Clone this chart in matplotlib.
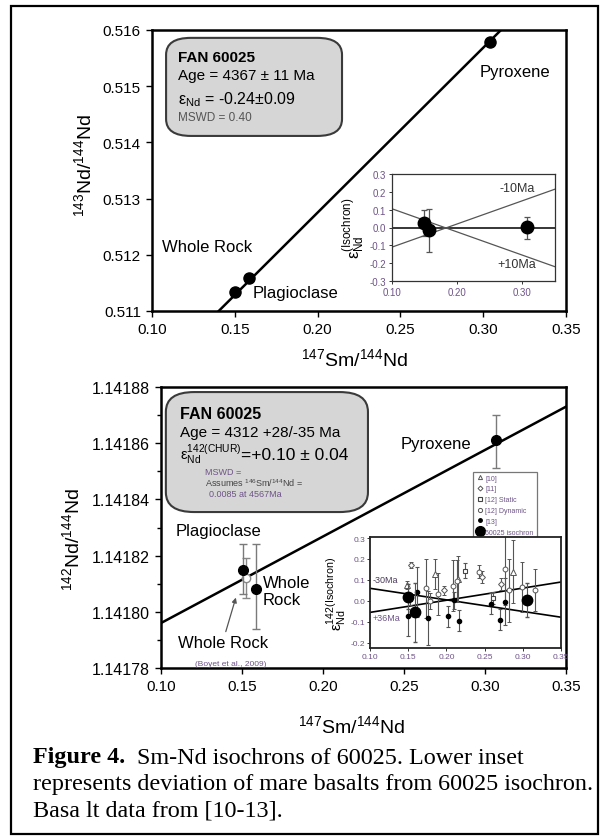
import matplotlib
matplotlib.use("Agg")
import matplotlib.pyplot as plt
from matplotlib.patches import FancyBboxPatch, Rectangle
from matplotlib.lines import Line2D
import matplotlib.font_manager as fm
import numpy as np

names = {f.name for f in fm.fontManager.ttflist}
SANS = "Liberation Sans"
NARROW = "Liberation Sans Narrow" if "Liberation Sans Narrow" in names else SANS
plt.rcParams['font.family'] = [SANS, 'DejaVu Sans']
plt.rcParams['mathtext.fontset'] = 'custom'
plt.rcParams['mathtext.rm'] = SANS
plt.rcParams['mathtext.it'] = SANS

# ---------------- data: upper (143Nd) isochron ----------------
top_labels = ["Whole Rock", "Plagioclase", "Pyroxene"]
top_x = [0.150, 0.1585, 0.3044]
top_y = [0.51134, 0.51158, 0.51578]
iso1_x = [0.10, 0.35]
iso1_y = [0.509818, 0.517151]

# upper inset: deviation from isochron
in1_x = [0.149, 0.157, 0.307]
in1_y = [0.025, -0.012, 0.003]
in1_lo = [0.070, 0.125, 0.065]
in1_hi = [0.075, 0.115, 0.055]
in1_line_x = [0.10, 0.35]
minus10_y = [-0.11, 0.215]
plus10_y = [0.105, -0.22]

# ---------------- data: lower (142Nd) isochron ----------------
low_labels = ["Plagioclase", "Whole Rock", "Pyroxene"]
low_x = [0.1504, 0.1586, 0.307]
low_y = [1.141815, 1.141808, 1.141861]
low_lo = [0.0000085, 0.000014, 0.000010]
low_hi = [0.0000090, 0.000016, 0.000009]
boyet_x = [0.1525]
boyet_y = [1.141812]
boyet_err = [0.000007]
iso2_x = [0.10, 0.35]
iso2_y = [1.141796, 1.141873]

# lower inset: basalt data [10-13]
b10_x = [0.149, 0.185, 0.2156, 0.2867]
b10_y = [0.075, 0.128, 0.105, 0.140]
b10_e = [0.02, 0.07, 0.11, 0.15]
b11_x = [0.154, 0.197, 0.246, 0.272]
b11_y = [0.171, 0.050, 0.113, 0.081]
b11_e = [0.015, 0.02, 0.03, 0.03]
b12s_x = [0.225, 0.2606, 0.152]
b12s_y = [0.144, 0.013, 0.010]
b12s_e = [0.035, 0.03, 0.03]
b12d_x = [0.173, 0.178, 0.189, 0.208, 0.2134, 0.243, 0.2767, 0.282, 0.2985, 0.316]
b12d_y = [0.060, 0.000, 0.033, 0.073, 0.097, 0.140, 0.152, 0.050, 0.065, 0.050]
b12d_e = [0.14, 0.04, 0.10, 0.12, 0.10, 0.03, 0.17, 0.15, 0.12, 0.10]
b13_x = [0.150, 0.161, 0.176, 0.2017, 0.210, 0.217, 0.259, 0.270, 0.2767]
b13_y = [-0.070, 0.044, -0.083, -0.073, 0.002, -0.094, -0.014, -0.090, -0.003]
b13_e = [0.10, 0.12, 0.13, 0.05, 0.04, 0.05, 0.05, 0.05, 0.11]
iso_in_x = [0.150, 0.159, 0.306]
iso_in_y = [0.020, -0.055, 0.005]
iso_in_e = [0.06, 0.14, 0.08]
in2_line_x = [0.10, 0.35]
minus30_y = [-0.055, 0.09]
plus36_y = [0.06, -0.078]

legend_labels = ["[10]", "[11]", "[12] Static", "[12] Dynamic", "[13]", "60025 isochron"]

PURPLE = "#6e5488"

fig = plt.figure(figsize=(6.08, 8.37), dpi=100)

# outer frame
fig.patches.append(Rectangle((11 / 608, 1 - 835 / 837), (598 - 11) / 608, (835 - 7) / 837,
                             transform=fig.transFigure, fill=False, lw=1.6, ec="black"))

def style_main(ax):
    for s in ax.spines.values():
        s.set_linewidth(1.8)
    ax.tick_params(direction='out', length=4, width=1, labelsize=11, pad=4)
    ax.set_xlim(0.10, 0.35)
    ax.set_xticks(np.arange(0.10, 0.351, 0.05))
    ax.xaxis.set_major_formatter(matplotlib.ticker.FormatStrFormatter('%.2f'))

# ---------------- upper main ----------------
ax1 = fig.add_axes([152 / 608, 1 - 312 / 837, 414 / 608, 281 / 837])
style_main(ax1)
ax1.set_ylim(0.511, 0.516)
ax1.set_yticks(np.arange(0.511, 0.51601, 0.001))
ax1.yaxis.set_major_formatter(matplotlib.ticker.FormatStrFormatter('%.3f'))
ax1.plot(iso1_x, iso1_y, color='black', lw=1.8)
ax1.plot(top_x, top_y, 'o', color='black', ms=8)
ax1.set_xlabel(r'$\mathregular{^{147}Sm/^{144}Nd}$', fontsize=14)
ax1.xaxis.set_label_coords(0.49, -0.13)
ax1.set_ylabel(r'$\mathregular{^{143}Nd/^{144}Nd}$', fontsize=14)
ax1.yaxis.set_label_coords(-0.138, 0.52)
ax1.text(0.1332, 0.512139, top_labels[0], fontsize=12, ha='center', va='center')
ax1.text(0.1864, 0.511338, top_labels[1], fontsize=12, ha='center', va='center')
ax1.text(0.319, 0.515253, top_labels[2], fontsize=12, ha='center', va='center')

box1 = FancyBboxPatch((0.034, 0.623), 0.425, 0.349, boxstyle="round,pad=0,rounding_size=0.06",
                      transform=ax1.transAxes, fc="#d6d6d6", ec="#3a3a3a", lw=1.5, zorder=3)
ax1.add_patch(box1)
ax1.text(0.063, 0.905, "FAN 60025", transform=ax1.transAxes, fontsize=11, weight='bold', va='center', zorder=4)
ax1.text(0.063, 0.84, "Age = 4367 ± 11 Ma", transform=ax1.transAxes, fontsize=11, va='center', zorder=4)
ax1.text(0.063, 0.755, r'$\mathregular{ε_{Nd}}$ = -0.24±0.09', transform=ax1.transAxes, fontsize=11.5, va='center', zorder=4)
ax1.text(0.063, 0.69, "MSWD = 0.40", transform=ax1.transAxes, fontsize=8.5, color="#555555", va='center', zorder=4)

# ---------------- upper inset ----------------
ai1 = fig.add_axes([392 / 608, 1 - 282 / 837, 163 / 608, 107 / 837])
ai1.set_xlim(0.10, 0.35)
ai1.set_ylim(-0.3, 0.3)
ai1.set_xticks([0.10, 0.20, 0.30])
ai1.set_yticks(np.round(np.arange(-0.3, 0.31, 0.1), 1))
ai1.xaxis.set_major_formatter(matplotlib.ticker.FormatStrFormatter('%.2f'))
ai1.yaxis.set_major_formatter(matplotlib.ticker.FormatStrFormatter('%.1f'))
for s in ai1.spines.values():
    s.set_linewidth(0.9)
    s.set_color("#333333")
ai1.tick_params(direction='out', length=2, width=0.7, labelsize=7, colors="#333333", labelcolor=PURPLE, pad=2)
for lab in ai1.get_xticklabels() + ai1.get_yticklabels():
    lab.set_family(NARROW)
ai1.axhline(0, color='black', lw=1.1)
ai1.plot(in1_line_x, minus10_y, color='#555555', lw=0.9)
ai1.plot(in1_line_x, plus10_y, color='#555555', lw=0.9)
ai1.errorbar(in1_x, in1_y, yerr=[in1_lo, in1_hi], fmt='o', color='black', ecolor='#555555',
             ms=9, elinewidth=0.9, capsize=2.5, capthick=0.9)
ai1.text(0.292, 0.22, "-10Ma", fontsize=9, family=NARROW, ha='center', va='center', color='#333333')
ai1.text(0.292, -0.205, "+10Ma", fontsize=9, family=NARROW, ha='center', va='center', color='#333333')
ai1.set_ylabel(r'$\mathregular{ε_{Nd}^{(Isochron)}}$', fontsize=12, labelpad=2)

# ---------------- lower main ----------------
ax2 = fig.add_axes([161 / 608, 1 - 669 / 837, 405 / 608, 281 / 837])
style_main(ax2)
ax2.set_ylim(1.14178, 1.14188)
ax2.set_yticks(np.arange(1.14178, 1.141881, 0.00002))
ax2.set_yticks(np.arange(1.14179, 1.14188, 0.00002), minor=True)
ax2.yaxis.set_major_formatter(matplotlib.ticker.FormatStrFormatter('%.5f'))
ax2.tick_params(axis='y', labelsize=11.5)
ax2.tick_params(axis='y', which='minor', direction='out', length=3, width=1)
ax2.plot(iso2_x, iso2_y, color='black', lw=1.8)
ax2.errorbar(boyet_x, boyet_y, yerr=boyet_err, fmt='o', mfc='white', mec='#888888', ecolor='#888888',
             ms=6, elinewidth=1, capsize=3, zorder=4)
ax2.errorbar(low_x, low_y, yerr=[low_lo, low_hi], fmt='o', color='black', ecolor='#7a7a7a',
             ms=7, elinewidth=1, capsize=3, zorder=5)
ax2.set_xlabel(r'$\mathregular{^{147}Sm/^{144}Nd}$', fontsize=14)
ax2.xaxis.set_label_coords(0.47, -0.165)
ax2.set_ylabel(r'$\mathregular{^{142}Nd/^{144}Nd}$', fontsize=14)
ax2.yaxis.set_label_coords(-0.193, 0.46)
ax2.text(0.1352, 1.141829, low_labels[0], fontsize=12, ha='center', va='center')
ax2.text(0.163, 1.1418075, "Whole\nRock", fontsize=12, ha='left', va='center', linespacing=1.15)
ax2.text(0.2698, 1.141860, low_labels[2], fontsize=12, ha='center', va='center')
ax2.text(0.1383, 1.141789, "Whole Rock", fontsize=12, ha='center', va='center')
ax2.text(0.1433, 1.1417815, "(Boyet et al., 2009)", fontsize=6, family=NARROW, color=PURPLE, ha='center', va='center')
ax2.annotate("", xy=(0.1467, 1.141806), xytext=(0.1395, 1.141792),
             arrowprops=dict(arrowstyle='-|>', color='#555555', lw=0.9, mutation_scale=7))

box2 = FancyBboxPatch((0.012, 0.555), 0.499, 0.427, boxstyle="round,pad=0,rounding_size=0.07",
                      transform=ax2.transAxes, fc="#d6d6d6", ec="#3a3a3a", lw=1.5, zorder=3)
ax2.add_patch(box2)
ax2.text(0.047, 0.905, "FAN 60025", transform=ax2.transAxes, fontsize=11.5, weight='bold', va='center', zorder=6)
ax2.text(0.047, 0.84, "Age = 4312 +28/-35 Ma", transform=ax2.transAxes, fontsize=11, va='center', zorder=6)
ax2.text(0.047, 0.765, r'$\mathregular{ε_{Nd}^{142(CHUR)}}$', transform=ax2.transAxes, fontsize=10.5, va='center', zorder=6)
ax2.text(0.198, 0.76, "=+0.10 ± 0.04", transform=ax2.transAxes, fontsize=12.5, va='center', zorder=6)
ax2.text(0.108, 0.70, "MSWD =", transform=ax2.transAxes, fontsize=6.5, family=NARROW, color=PURPLE, va='center', zorder=6)
ax2.text(0.108, 0.66, r'Assumes $\mathregular{^{146}Sm/^{144}Nd}$ =', transform=ax2.transAxes, fontsize=6.5,
         family=NARROW, color="#444444", va='center', zorder=6)
ax2.text(0.118, 0.62, "0.0085 at 4567Ma", transform=ax2.transAxes, fontsize=6.5, family=NARROW, color=PURPLE,
         va='center', zorder=6)

# ---------------- lower inset ----------------
ai2 = fig.add_axes([370 / 608, 1 - 649 / 837, 191 / 608, 111 / 837])
ai2.set_xlim(0.10, 0.35)
ai2.set_ylim(-0.225, 0.305)
ai2.set_xticks(np.arange(0.10, 0.351, 0.05))
ai2.set_yticks(np.round(np.arange(-0.2, 0.31, 0.1), 1))
ai2.xaxis.set_major_formatter(matplotlib.ticker.FormatStrFormatter('%.2f'))
ai2.yaxis.set_major_formatter(matplotlib.ticker.FormatStrFormatter('%.1f'))
for s in ai2.spines.values():
    s.set_linewidth(1.3)
    s.set_color("#222222")
ai2.tick_params(direction='out', length=2, width=0.7, labelsize=6, colors="#333333", labelcolor=PURPLE, pad=1.5)
for lab in ai2.get_xticklabels() + ai2.get_yticklabels():
    lab.set_family(NARROW)
ai2.plot(in2_line_x, minus30_y, color='black', lw=1.2)
ai2.plot(in2_line_x, plus36_y, color='black', lw=1.2)
ekw = dict(ecolor='#555555', elinewidth=0.8, capsize=1.5, capthick=0.8, ls='none')
h10 = ai2.errorbar(b10_x, b10_y, yerr=b10_e, marker='^', ms=4, mfc='white', mec='#555555', mew=0.7, **ekw)
h11 = ai2.errorbar(b11_x, b11_y, yerr=b11_e, marker='D', ms=3, mfc='white', mec='#555555', mew=0.7, **ekw)
h12s = ai2.errorbar(b12s_x, b12s_y, yerr=b12s_e, marker='s', ms=3.5, mfc='white', mec='#444444', mew=0.8, **ekw)
h12d = ai2.errorbar(b12d_x, b12d_y, yerr=b12d_e, marker='o', ms=3.5, mfc='white', mec='#555555', mew=0.7, **ekw)
h13 = ai2.errorbar(b13_x, b13_y, yerr=b13_e, marker='o', ms=3, mfc='black', mec='black', **ekw)
hiso = ai2.errorbar(iso_in_x, iso_in_y, yerr=iso_in_e, marker='o', ms=7.5, mfc='black', mec='black',
                    ecolor='#555555', elinewidth=0.8, capsize=1.5, ls='none', zorder=5)
ai2.text(0.103, 0.10, "-30Ma", fontsize=6.5, family=NARROW, color="#4a3a5a", ha='left', va='center')
ai2.text(0.103, -0.08, "+36Ma", fontsize=6.5, family=NARROW, color=PURPLE, ha='left', va='center')
ai2.set_ylabel(r'$\mathregular{ε_{Nd}^{142(Isochron)}}$', fontsize=11, labelpad=1)

# legend (in lower main axes)
leg_handles = [
    Line2D([], [], marker='^', ls='none', ms=3, mfc='white', mec='#555555', mew=0.7),
    Line2D([], [], marker='D', ls='none', ms=2.5, mfc='white', mec='#555555', mew=0.7),
    Line2D([], [], marker='s', ls='none', ms=3, mfc='white', mec='#444444', mew=0.8),
    Line2D([], [], marker='o', ls='none', ms=3, mfc='white', mec='#555555', mew=0.7),
    Line2D([], [], marker='o', ls='none', ms=2.5, mfc='black', mec='black'),
    Line2D([], [], marker='o', ls='none', ms=7, mfc='black', mec='black'),
]
leg = ax2.legend(leg_handles, legend_labels, loc='upper left', bbox_to_anchor=(0.77, 0.698),
                 fontsize=5, frameon=True, fancybox=False, edgecolor='#555555', handlelength=1.2,
                 handletextpad=0.2, labelspacing=0.55, borderpad=0.4, borderaxespad=0)
leg.get_frame().set_linewidth(0.9)
for t in leg.get_texts():
    t.set_color(PURPLE)
    t.set_family(NARROW)
leg.set_zorder(6)

# ---------------- caption ----------------
cap = fig.add_axes([0, 0, 1, 1])
cap.axis('off')
cap.set_xlim(0, 608)
cap.set_ylim(837, 0)
SERIF = "Liberation Serif"
CFS = 17.4
t1 = cap.text(33, 758, "Figure 4.", fontsize=CFS, family=SERIF, weight='bold', va='center', ha='left')
cap.annotate("  Sm-Nd isochrons of 60025. Lower inset", xy=(1, 0.5), xycoords=t1, fontsize=CFS,
             family=SERIF, va='center', ha='left')
cap.text(33, 785, "represents deviation of mare basalts from 60025 isochron.", fontsize=CFS, family=SERIF,
         va='center', ha='left')
cap.text(33, 811, "Basa lt data from [10-13].", fontsize=CFS, family=SERIF, va='center', ha='left')

fig.savefig("out.png", dpi=100)
